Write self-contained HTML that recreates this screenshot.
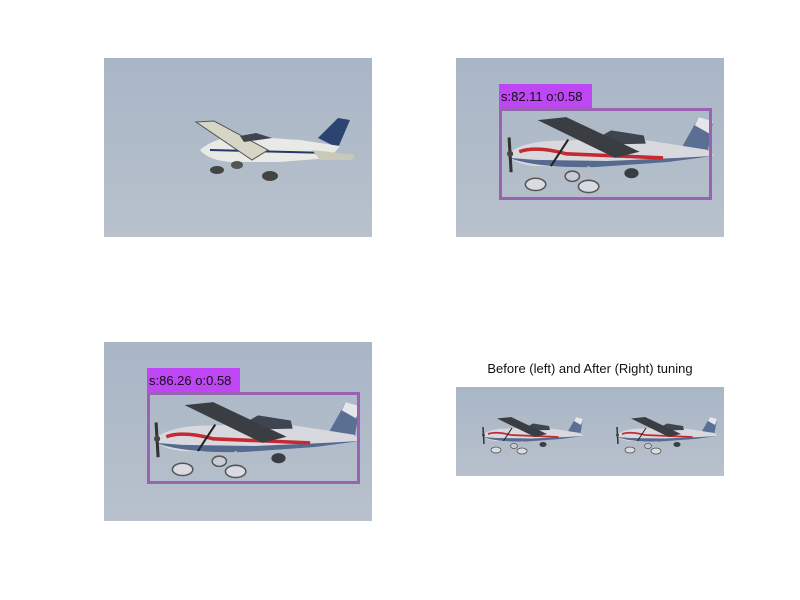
<!DOCTYPE html>
<html><head><meta charset="utf-8"><style>
body{margin:0;background:#fff;}
svg{display:block;font-family:"Liberation Sans",sans-serif;}
</style></head><body>
<svg width="800" height="600" viewBox="0 0 800 600">
<defs>
<linearGradient id="sky" x1="0" y1="0" x2="0" y2="1">
<stop offset="0" stop-color="#a9b6c6"/><stop offset="1" stop-color="#b8c1cc"/>
</linearGradient>
<g id="plane">
<polygon points="172,36 190,4 204,8 198,42" fill="#5b6f95"/>
<polygon points="190,4 204,8 200,20 186,12" fill="#e4e6ea"/>
<path d="M2,40 Q20,26 60,27 L120,24 L160,30 L198,36 L205,42 L160,48 L90,53 L30,52 Q8,50 2,40 Z" fill="#d7d9de"/>
<path d="M4,44 Q30,54 90,53 L160,48 L205,42 L170,44 L100,47 L30,46 Z" fill="#566a90"/>
<path d="M14,38 Q30,32 60,40 L155,44" stroke="#c62a30" stroke-width="3.5" fill="none"/>
<polygon points="88,26 104,17 136,22 138,30 96,31" fill="#3e4450"/>
<polygon points="32,7 60,4 132,38 108,44" fill="#3a3d42"/>
<line x1="62" y1="26" x2="45" y2="52" stroke="#222" stroke-width="2"/>
<line x1="4" y1="24" x2="6" y2="58" stroke="#333" stroke-width="3"/>
<circle cx="5" cy="40" r="3" fill="#444"/>
<line x1="30" y1="52" x2="30" y2="64" stroke="#bbb" stroke-width="2"/>
<ellipse cx="30" cy="70" rx="10" ry="6" fill="#d9dbe0" stroke="#555" stroke-width="1.5"/>
<line x1="82" y1="52" x2="82" y2="66" stroke="#bbb" stroke-width="2"/>
<ellipse cx="82" cy="72" rx="10" ry="6" fill="#d9dbe0" stroke="#555" stroke-width="1.5"/>
<ellipse cx="66" cy="62" rx="7" ry="5" fill="#c9ccd2" stroke="#555" stroke-width="1.5"/>
<ellipse cx="124" cy="59" rx="7" ry="5" fill="#3a3d42"/>
</g>
</defs>

<g>
<rect x="104" y="58" width="268" height="179" fill="url(#sky)"/>
<g>
<polygon points="318,138 338,118 350,120 338,148" fill="#2b4470"/>
<path d="M200,150 Q215,137 240,136 L300,140 L340,146 L330,158 L280,162 L230,162 Q208,160 200,150 Z" fill="#e9eae6"/>
<path d="M210,150 L330,153" stroke="#24386a" stroke-width="2"/>
<polygon points="196,122 214,121 268,150 252,160" fill="#d6d6c6" stroke="#555" stroke-width="1"/>
<polygon points="312,150 355,155 352,160 320,160" fill="#c9c9b9"/>
<polygon points="240,136 256,133 272,138 244,142" fill="#3e4450"/>
<ellipse cx="217" cy="170" rx="7" ry="4" fill="#444"/>
<ellipse cx="237" cy="165" rx="6" ry="4" fill="#555"/>
<ellipse cx="270" cy="176" rx="8" ry="5" fill="#444"/>
</g>
</g>

<g>
<rect x="456" y="58" width="268" height="179" fill="url(#sky)"/>
<use href="#plane" transform="translate(505,113) scale(1.02)"/>
<rect x="500.5" y="109.5" width="210" height="89" fill="none" stroke="#9a62b2" stroke-width="3"/>
<rect x="499" y="84" width="93" height="24" fill="#bf46f4"/>
<text x="501" y="101" font-size="13" fill="#111">s:82.11 o:0.58</text>
</g>

<g>
<rect x="104" y="342" width="268" height="179" fill="url(#sky)"/>
<use href="#plane" transform="translate(152,398) scale(1.02)"/>
<rect x="148.5" y="393.5" width="210" height="89" fill="none" stroke="#9a62b2" stroke-width="3"/>
<rect x="147" y="368" width="93" height="24" fill="#bf46f4"/>
<text x="149" y="385" font-size="13" fill="#111">s:86.26 o:0.58</text>
</g>

<g>
<text x="590" y="373" font-size="13" fill="#111" text-anchor="middle">Before (left) and After (Right) tuning</text>
<rect x="456" y="387" width="134" height="89" fill="url(#sky)"/>
<rect x="590" y="387" width="134" height="89" fill="url(#sky)"/>
<use href="#plane" transform="translate(481,415) scale(0.5)"/>
<use href="#plane" transform="translate(615,415) scale(0.5)"/>
</g>
</svg>
</body></html>
